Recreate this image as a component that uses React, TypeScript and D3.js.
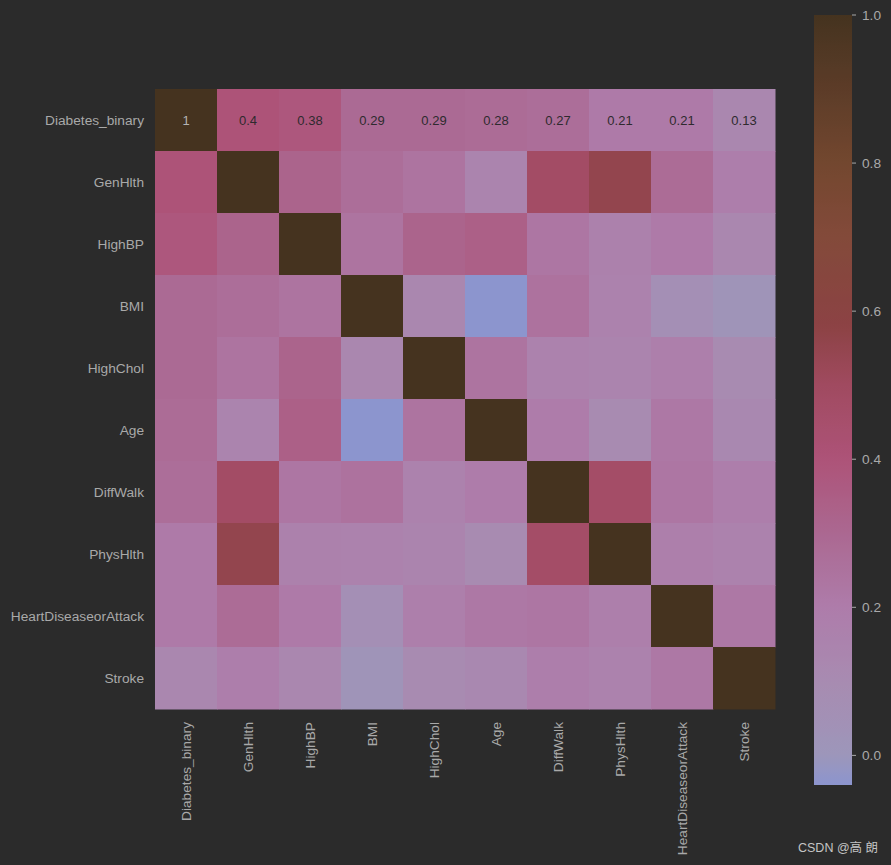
import React from "react";
import * as d3 from "d3";

const labels = [
  "Diabetes_binary",
  "GenHlth",
  "HighBP",
  "BMI",
  "HighChol",
  "Age",
  "DiffWalk",
  "PhysHlth",
  "HeartDiseaseorAttack",
  "Stroke",
];

// correlation matrix rows (same order as labels)
const rowDiabetes = [1, 0.4, 0.38, 0.29, 0.29, 0.28, 0.27, 0.21, 0.21, 0.13];
const rowGenHlth = [0.4, 1, 0.32, 0.27, 0.24, 0.15, 0.48, 0.55, 0.28, 0.19];
const rowHighBP = [0.38, 0.32, 1, 0.24, 0.32, 0.34, 0.23, 0.17, 0.21, 0.13];
const rowBMI = [0.29, 0.27, 0.24, 1, 0.13, -0.04, 0.25, 0.16, 0.06, 0.02];
const rowHighChol = [0.29, 0.24, 0.32, 0.13, 1, 0.24, 0.16, 0.15, 0.18, 0.1];
const rowAge = [0.28, 0.15, 0.34, -0.04, 0.24, 1, 0.2, 0.1, 0.22, 0.12];
const rowDiffWalk = [0.27, 0.48, 0.23, 0.25, 0.16, 0.2, 1, 0.47, 0.23, 0.19];
const rowPhysHlth = [0.21, 0.55, 0.17, 0.16, 0.15, 0.1, 0.47, 1, 0.18, 0.16];
const rowHeart = [0.21, 0.28, 0.21, 0.06, 0.18, 0.22, 0.23, 0.18, 1, 0.22];
const rowStroke = [0.13, 0.19, 0.13, 0.02, 0.1, 0.12, 0.19, 0.16, 0.22, 1];

const matrix = [
  rowDiabetes,
  rowGenHlth,
  rowHighBP,
  rowBMI,
  rowHighChol,
  rowAge,
  rowDiffWalk,
  rowPhysHlth,
  rowHeart,
  rowStroke,
];

const colorbarTicks = [0.0, 0.2, 0.4, 0.6, 0.8, 1.0];

// colormap stops
const cmapValues = [-0.04, 0.0, 0.1, 0.2, 0.3, 0.4, 0.5, 0.58, 0.7, 0.8, 0.9, 1.0];
const cmapColors = [
  "#8c95ce",
  "#9d96ba",
  "#a88bb1",
  "#ae7caa",
  "#ab6891",
  "#ad5378",
  "#a04a60",
  "#8c4244",
  "#834a3a",
  "#73472f",
  "#5c3c28",
  "#45331f",
];

const W = 891;
const H = 865;
const BG = "#2b2b2b";
const FONT = "'Liberation Sans', Arial, 'Noto Sans CJK SC', sans-serif";
const LABEL = "#a9a9a9";

export default function App() {
  const x = d3.scaleBand<string>().domain(labels).range([155, 775]).padding(0);
  const y = d3.scaleBand<string>().domain(labels).range([89, 709]).padding(0);
  const color = d3
    .scaleLinear<string>()
    .domain(cmapValues)
    .range(cmapColors)
    .interpolate(d3.interpolateRgb)
    .clamp(true);

  const vmin = d3.min(matrix.flat()) as number;
  const cb = d3.scaleLinear().domain([vmin, 1]).range([785, 15]);
  const cbX = 814;
  const cbW = 38;

  const gradStops = d3.range(0, 101).map((i) => {
    const v = vmin + ((1 - vmin) * i) / 100;
    return { offset: i, color: color(v) };
  });

  const fmt = (v: number) => {
    if (v === 1) return "1";
    return String(+v.toPrecision(2));
  };

  return (
    <svg
      width={W}
      height={H}
      style={{ position: "absolute", left: 0, top: 0, display: "block" }}
      fontFamily={FONT}
    >
      <defs>
        <linearGradient id="cbgrad" x1="0" y1="1" x2="0" y2="0">
          {gradStops.map((s) => (
            <stop key={s.offset} offset={`${s.offset}%`} stopColor={s.color} />
          ))}
        </linearGradient>
      </defs>
      <rect x={0} y={0} width={W} height={H} fill={BG} />

      {matrix.map((row, i) =>
        row.map((v, j) => (
          <rect
            key={`${i}-${j}`}
            x={x(labels[j])}
            y={y(labels[i])}
            width={x.bandwidth() + 0.5}
            height={y.bandwidth() + 0.5}
            fill={color(v)}
          />
        ))
      )}

      {rowDiabetes.map((v, j) => (
        <text
          key={`ann-${j}`}
          x={(x(labels[j]) as number) + x.bandwidth() / 2}
          y={(y(labels[0]) as number) + y.bandwidth() / 2}
          textAnchor="middle"
          dominantBaseline="central"
          fontSize={13}
          fill={v > 0.7 ? "#b4b4b4" : "#2e2a2e"}
        >
          {fmt(v)}
        </text>
      ))}

      {labels.map((l) => (
        <text
          key={`yl-${l}`}
          x={144}
          y={(y(l) as number) + y.bandwidth() / 2}
          textAnchor="end"
          dominantBaseline="central"
          fontSize={13.7}
          fill={LABEL}
        >
          {l}
        </text>
      ))}

      {labels.map((l) => {
        const cx = (x(l) as number) + x.bandwidth() / 2;
        const ty = 722;
        return (
          <text
            key={`xl-${l}`}
            transform={`translate(${cx},${ty}) rotate(-90)`}
            textAnchor="end"
            dominantBaseline="central"
            fontSize={13.7}
            fill={LABEL}
          >
            {l}
          </text>
        );
      })}

      <rect x={cbX} y={15} width={cbW} height={770} fill="url(#cbgrad)" />
      {colorbarTicks.map((t) => (
        <g key={`cb-${t}`}>
          <line
            x1={cbX + cbW}
            x2={cbX + cbW + 4}
            y1={cb(t)}
            y2={cb(t)}
            stroke={LABEL}
            strokeWidth={1}
          />
          <text
            x={cbX + cbW + 10}
            y={cb(t)}
            dominantBaseline="central"
            fontSize={13.7}
            fill={LABEL}
          >
            {t.toFixed(1)}
          </text>
        </g>
      ))}

      <text
        x={798}
        y={848}
        dominantBaseline="central"
        fontSize={12.5}
        fill="#c4c4c4"
      >
        CSDN @高 朗
      </text>
    </svg>
  );
}
